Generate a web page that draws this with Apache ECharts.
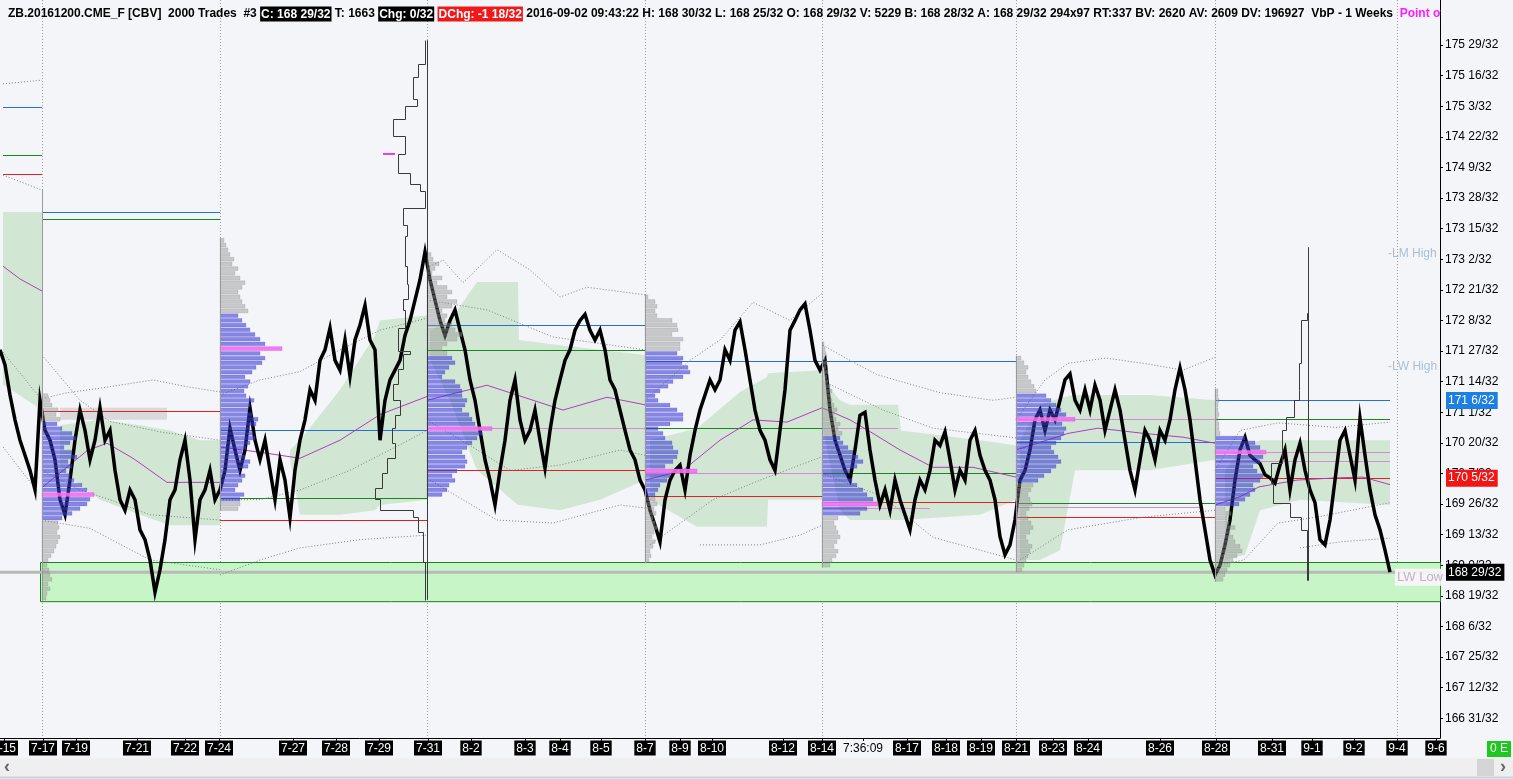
<!DOCTYPE html>
<html><head><meta charset="utf-8"><title>ZB.20161200.CME_F</title>
<script src="https://cdn.jsdelivr.net/npm/echarts@6.0.0/dist/echarts.min.js"></script>
<style>html,body{margin:0;padding:0;background:#f4f5f9;overflow:hidden}#c{width:1513px;height:779px}</style>
</head><body><div id="c"></div>
<script>
const FONT = '"Liberation Sans", Arial, sans-serif';
const BG = '#f4f5f9';

// ---------- axis tick labels ----------
const priceTickLabels = ['175 29/32','175 16/32','175 3/32','174 22/32','174 9/32','173 28/32','173 15/32','173 2/32','172 21/32','172 8/32','171 27/32','171 14/32','171 1/32','170 20/32','170 7/32','169 26/32','169 13/32','169 0/32','168 19/32','168 6/32','167 25/32','167 12/32','166 31/32'];
const dateLabels = ['7-15','7-17','7-19','7-21','7-22','7-24','7-27','7-28','7-29','7-31','8-2','8-3','8-4','8-5','8-7','8-9','8-10','8-12','8-14','7:36:09','8-17','8-18','8-19','8-21','8-23','8-24','8-26','8-28','8-31','9-1','9-2','9-4','9-6'];
const dateBars = [4,43,76,137,185,219,293,336,379,428,471,525,560,601,645,680,712,783,822,863,907,946,981,1016,1053,1088,1160,1216,1272,1312,1354,1397,1436];
const weekBars = [42,220,427,645,822,1016,1215,1397];

// ---------- price series (one value every 5 bars) ----------
const BAR_STEP = 5;
const closes = [
171.86,171.66,171.26,170.93,170.66,170.46,170.26,170.00,171.19,170.79,
170.66,170.40,169.87,169.67,170.13,170.66,171.06,170.79,170.40,170.66,
171.09,170.66,170.79,170.26,169.87,169.73,170.00,169.87,169.47,169.34,
169.07,168.64,168.94,169.34,169.87,170.00,170.40,170.66,170.13,169.34,
169.87,170.00,170.26,169.87,170.00,170.26,170.82,170.53,170.26,170.53,
171.09,170.66,170.40,170.66,170.26,169.87,170.40,170.13,169.63,170.26,
170.66,170.93,171.33,171.19,171.72,171.86,172.15,171.72,171.59,171.99,
171.51,171.99,172.19,172.45,171.99,171.86,170.66,171.19,171.46,171.59,
171.72,172.05,172.25,172.52,172.79,173.16,172.79,172.52,172.25,172.05,
172.25,172.39,172.12,171.86,171.46,171.19,170.79,170.40,170.13,169.80,
170.26,170.66,171.19,171.46,170.93,170.66,170.79,171.06,170.66,170.29,
170.79,171.19,171.46,171.72,171.86,172.12,172.25,172.33,172.12,171.99,
172.12,171.86,171.46,171.33,171.06,170.79,170.53,170.40,170.13,170.00,
169.73,169.53,169.31,169.87,170.13,170.26,170.33,170.00,170.46,170.79,
171.06,171.26,171.46,171.33,171.46,171.86,171.72,172.12,172.23,171.86,
171.46,171.06,170.79,170.66,170.40,170.26,170.79,171.33,172.12,172.25,
172.39,172.47,172.12,171.72,171.59,171.72,171.06,170.66,170.46,170.26,
170.13,170.53,170.99,171.03,170.53,170.13,169.80,170.00,169.73,170.13,
169.87,169.67,169.47,169.87,170.13,170.00,170.26,170.66,170.59,170.77,
170.40,170.00,170.26,170.13,170.66,170.79,170.46,170.26,170.13,169.87,
169.38,169.14,169.27,169.60,170.13,170.26,170.53,170.93,171.06,170.79,
171.06,170.93,171.19,171.46,171.54,171.19,171.06,171.33,171.06,171.39,
171.19,170.79,171.06,171.33,171.06,170.66,170.26,170.00,170.40,170.79,
170.66,170.40,170.79,170.66,170.93,171.33,171.62,171.33,170.93,170.40,
169.87,169.47,169.07,168.87,169.00,169.27,169.60,170.13,170.53,170.70,
170.46,170.40,170.35,170.20,170.16,170.09,170.33,170.53,170.00,170.40,
170.62,170.26,170.00,169.83,169.34,169.27,169.60,170.13,170.66,170.79,
170.46,170.13,170.95,170.46,170.00,169.67,169.47,169.20,168.91
];

// ---------- weekly volume profiles (rows every 1/16, bottom to top) ----------
const ROW = 1/16;
const profBars = [42,220,427,645,822,1016,1215];
const profLows = [168.5625,169.75,169.9375,169.0625,169.0,168.9375,168.8125];
const profPoc  = [22,34,14,19,13,32,27];
const profVaLo = [17,2,0,14,11,19,16];
const profVaHi = [37,41,29,44,27,37,30];
const volA = [4,5,8,6,10,8,7,5,6,9,12,14,16,18,15,17,16, 20,30,38,45,48, 52, 45,40,32,28,24,30,26,35,30,22,28,34,30,20,15, 18,14,16,10,8,6];
const volB = [18,20, 20,24,15,18,22,25,20,28,30,25,22,26,30,35,33,30,36,38,32,28,30,34,26,24,28,30,25,32,36,42,45,40, 62, 45,40,35,30,26,22,18, 28,25,22,20,18,22,25,20,15,18,12,14,10,8,6,4];
const volC = [15,20,22,28,25,30,38,40,38,35,40,45,50,55, 65, 48,45,42,35,38,40,35,35,33,28,15,18,22,28,25, 20,15,20,30,35,28,25,18,20,15,25,30,20,25,20,10,15,5,8,12,6,4];
const volD = [4,6,5,8,10,7,9,12,10,8,11,9,12,10, 10,13,15,22,25, 52, 20,28,32,33,28,27,20,18,13,25,38,38,32,25,13,10,15,23,28,38,45,43,37,38,32, 35,35,38,27,33,32,27,12,10,12,10,3];
const volE = [8,10,14,16,12,15,18,16,14,12,16, 38,45, 56, 51,45,41,35,30,25,28,35,41,36,31,26,21,18, 20,16,18,14,12,15,12,10,8,10,8,6,5,6,4,5,3,4,3,2];
const volF = [6,8,10,12,14,16,12,10,14,17,15,12,10,13,16,14,12,15,17, 22,28,35,40,45,42,38,35,40,45,48,50,46, 59, 50,45,40,35,30, 20,18,15,12,10,12,8,5];
const volG = [8,10,12,15,18,22,27,25,20,18,15,20,14,12,16,10, 24,30,35,40,38,45,48,42,38,45,48, 51, 45,40,30, 5,4,4,3,4,3,3,4,3,3];
const profVols = [volA,volB,volC,volD,volE,volF,volG];

// ---------- developing profile outlines [price, volume] (top to bottom) ----------
const outline731 = [[175.97,2],[175.65,9],[175.48,14],[175.19,10],[175.10,22],[174.92,34],[174.70,22],[174.46,29],[174.21,17],[174.06,7],[173.97,2],[173.74,24],[173.52,20],[173.37,22],[172.97,20],[172.73,19],[172.53,24],[172.39,22],[172.15,29],[171.84,17],[171.80,24],[171.60,29],[171.41,34],[171.20,27],[171.00,32],[170.82,35],[170.62,32],[170.42,40],[170.22,45],[170.03,52],[169.88,47],[169.73,14],[169.64,9],[169.44,4],[169.04,2],[168.54,2]];
const outline901 = [[173.22,0],[172.35,1],[172.25,7],[171.69,9],[171.33,9],[171.19,14],[170.97,22],[170.79,26],[170.53,26],[170.36,37],[170.09,35],[169.83,18],[169.64,7],[169.47,1],[168.80,0]];
const outlineBars = [427,1308];
const outlinePocs = [[383,395,174.46]];

// ---------- value-area shading [bar, high, low] ----------
const greenPre = [[3,173.69,171.40],[42,173.69,171.06]];
const green717 = [[60,170.86,170.26],[100,170.93,169.87],[140,170.86,169.67],[170,170.79,169.53],[200,170.66,169.53],[220,170.66,169.53]];
const green724 = [[290,170.53,170.40],[300,170.66,169.67],[340,171.33,169.67],[375,172.05,169.73],[380,172.25,169.80],[427,172.32,169.87]];
const green731 = [[430,172.12,171.72],[450,172.25,171.19],[477,172.76,170.26],[518,172.76,169.80],[519,171.99,169.80],[560,171.92,169.73],[600,171.86,169.87],[645,171.79,170.13]];
const green807 = [[650,170.66,169.87],[697,170.82,169.51],[740,171.30,169.51],[767,171.50,169.51],[768,171.55,169.87],[822,171.59,169.87]];
const green814 = [[823,171.46,170.79],[840,171.19,169.73],[850,171.13,169.60],[898,171.13,169.60],[901,170.79,169.60],[980,170.66,169.67],[1016,170.59,169.87]];
const green821 = [[1020,170.66,169.07],[1040,171.13,169.07],[1060,171.22,169.20],[1075,171.26,170.26],[1150,171.26,170.26],[1215,171.19,170.40]];
const green828 = [[1225,170.26,169.07],[1245,170.59,169.14],[1260,170.66,169.73],[1300,170.66,169.87],[1390,170.66,169.80]];
const grayBand717 = [[60,171.09,170.93],[167,171.09,170.93]];

// ---------- weekly levels [fromBar, toBar, price] ----------
const levelsBlue  = [[3,42,175.08],[42,220,173.69],[220,427,170.79],[427,645,172.19],[645,822,171.71],[822,1016,171.71],[1016,1215,170.64],[1215,1390,171.1875]];
const levelsGreen = [[3,42,174.45],[42,220,173.60],[220,427,169.89],[427,645,171.86],[645,822,170.82],[822,1016,170.22],[1016,1215,169.82],[1215,1390,170.94]];
const levelsRed   = [[3,42,174.19],[42,220,171.05],[220,427,169.60],[427,645,170.26],[645,822,169.92],[822,1016,169.84],[1016,1215,169.64],[1215,1390,170.15625]];
const levelsPink  = [[427,645,170.82],[645,822,170.22],[822,898,170.82],[822,930,169.76],[1016,1215,170.94],[1016,1200,169.77],[1215,1390,170.50],[1215,1390,170.38]];

// ---------- VWAP curves [bar, price] ----------
const vwapPre = [[3,172.97],[20,172.80],[42,172.64]];
const vwap717 = [[42,170.03],[87,170.52],[107,170.62],[133,170.42],[167,170.10],[220,170.10]];
const vwap724 = [[220,170.57],[260,170.50],[300,170.42],[340,170.66],[380,171.00],[427,171.24]];
const vwap731 = [[427,171.19],[487,171.39],[510,171.29],[563,171.06],[607,171.23],[645,171.13]];
const vwap807 = [[645,170.13],[683,170.26],[720,170.66],[753,170.93],[787,170.90],[822,171.09]];
const vwap814 = [[822,171.09],[850,170.93],[873,170.75],[900,170.53],[933,170.30],[973,170.30],[1016,170.17]];
const vwap821 = [[1016,170.53],[1068,170.75],[1098,170.82],[1144,170.75],[1183,170.70],[1215,170.62]];
const vwap828 = [[1215,169.80],[1240,169.91],[1259,170.04],[1297,170.13],[1336,170.16],[1363,170.17],[1390,170.07]];

// ---------- deviation bands (dotted) [bar, price] ----------
const dotPreU1 = [[3,175.39],[42,175.44]];
const dotPreU2 = [[3,174.18],[42,173.98]];
const dotPreL1 = [[3,171.83],[42,171.19]];
const dotPreL2 = [[3,170.57],[38,169.97]];
const dot717U1 = [[42,171.21],[67,171.29],[100,171.35],[153,171.46],[187,171.37],[220,171.30]];
const dot717U2 = [[42,171.79],[80,171.19],[110,170.91],[160,170.77],[220,170.66]];
const dot717L1 = [[42,170.26],[80,170.00],[110,169.87],[150,169.67],[220,169.60]];
const dot717L2 = [[45,169.59],[90,169.49],[150,169.07],[220,168.94]];
const dot724U1 = [[220,171.26],[260,171.46],[300,171.57],[340,171.86],[380,172.12],[427,172.28]];
const dot724L1 = [[220,169.87],[260,169.87],[300,170.00],[350,170.26],[400,170.60],[427,170.79]];
const dot724L2 = [[220,168.87],[260,169.07],[300,169.23],[360,169.34],[427,169.40]];
const dot731U1 = [[427,172.95],[443,173.05],[463,172.75],[497,173.19],[530,172.92],[560,172.56],[587,172.69],[645,172.59]];
const dot731U2 = [[427,172.52],[487,172.39],[553,172.03],[645,171.86]];
const dot731L1 = [[427,170.93],[470,170.59],[510,170.26],[560,170.33],[620,170.53],[645,170.46]];
const dot731L2 = [[430,170.13],[497,169.60],[553,169.56],[620,169.80],[645,169.76]];
const dot807U1 = [[645,171.19],[690,171.72],[720,171.99],[753,172.49],[790,172.25],[822,172.61]];
const dot807L1 = [[650,169.27],[713,169.87],[760,170.13],[822,170.44]];
const dot807L2 = [[700,169.27],[760,169.27],[800,169.40],[822,169.53]];
const dot814U1 = [[823,171.92],[850,171.72],[877,171.53],[940,171.29],[993,171.19],[1016,171.23]];
const dot814U2 = [[827,171.42],[883,171.06],[933,170.82],[1016,170.69]];
const dot814L1 = [[822,170.22],[883,169.91],[933,169.37],[980,169.20],[1016,169.07]];
const dot821U1 = [[1016,170.93],[1045,171.46],[1068,171.68],[1106,171.75],[1144,171.68],[1183,171.59],[1215,171.76]];
const dot821L1 = [[1020,169.07],[1068,169.47],[1144,169.64],[1215,169.73]];
const dot828U1 = [[1215,170.26],[1240,170.79],[1278,170.89],[1336,170.83],[1390,170.90]];
const dot828L1 = [[1218,169.00],[1244,169.07],[1278,169.56],[1317,169.64],[1390,169.83]];
const dot828L2 = [[1300,169.23],[1340,169.31],[1390,169.36]];

// ---------- zone, last price, tags, notes ----------
const zoneBox = [[40,169.04,1440,168.52]];
const lastPrice = 168.90625;
const tagLabels = ['171 6/32','170 5/32','168 29/32'];
const tagValues = [171.1875,170.15625,168.90625];
const tagColors = ['#1b7fe3','#f31414','#000000'];
const noteLabels = ['-LM High','-LW High'];
const noteValues = [173.14,171.64];
const lwLowLabel = 'LW Low';
const lwLowValue = 168.84;

// ================= build =================
const Y_MAX = 176.5036, Y_MIN = 166.7066;
function parseP(s){ const p = s.split(' '); const f = p[1].split('/'); return +p[0] + (+f[0])/(+f[1]); }
const priceTickValues = priceTickLabels.map(parseP);
function nearestLabel(vals, labels, v){ let bi=0, bd=1e9; vals.forEach((t,i)=>{const d=Math.abs(t-v); if(d<bd){bd=d;bi=i;}}); return labels[bi]; }

const profRows = [];
const profBase = [];
profVols.forEach((vols,k)=>{
  vols.forEach((w,i)=>{
    const kind = i===profPoc[k] ? 2 : (i>=profVaLo[k] && i<=profVaHi[k] ? 1 : 0);
    profRows.push([profBars[k], profLows[k]+i*ROW, w, kind]);
  });
  profBase.push([profBars[k], profLows[k]-ROW/2, profLows[k]+(vols.length-0.5)*ROW]);
});
profBase[0][2] = 173.99;

const greenBands = [greenPre,green717,green724,green731,green807,green814,green821,green828];
const levelSets = [levelsBlue,levelsGreen,levelsRed,levelsPink];
const levelColors = ['#2371d6','#15861a','#e32020','#d88ad8'];
const levelRows = [];
levelSets.forEach((set,k)=>set.forEach(s=>levelRows.push([s[0],s[2],s[1],k])));
const vwaps = [vwapPre,vwap717,vwap724,vwap731,vwap807,vwap814,vwap821,vwap828];
const dots = [dotPreU1,dotPreU2,dotPreL1,dotPreL2,dot717U1,dot717U2,dot717L1,dot717L2,dot724U1,dot724L1,dot724L2,dot731U1,dot731U2,dot731L1,dot731L2,dot807U1,dot807L1,dot807L2,dot814U1,dot814U2,dot814L1,dot821U1,dot821L1,dot828U1,dot828L1,dot828L2];
const outlines = [outline731,outline901];

const series = [];
series.push({type:'custom', z:1, silent:true, data: weekBars.map(b=>[b,170]), encode:{x:0,y:1},
  renderItem(params, api){ const x = Math.round(api.coord([api.value(0),170])[0])+0.5; const cs = params.coordSys;
    return {type:'line', shape:{x1:x,y1:0,x2:x,y2:cs.y+cs.height}, style:{stroke:'#a0a0a0', lineWidth:1, lineDash:[1,2]}}; }});
series.push({type:'custom', z:1, silent:true, data: greenBands.map((b,i)=>[b[0][0], b[0][1], i]), encode:{x:0,y:1},
  renderItem(params, api){ const band = greenBands[api.value(2)];
    const pts = band.map(r=>api.coord([r[0],r[1]])).concat(band.slice().reverse().map(r=>api.coord([r[0],r[2]])));
    return {type:'polygon', shape:{points:pts}, style:{fill:'rgba(160,212,160,0.42)'}}; }});
series.push({type:'custom', z:1, silent:true, data: [[grayBand717[0][0], grayBand717[0][1]]], encode:{x:0,y:1},
  renderItem(params, api){ const a = api.coord([grayBand717[0][0], grayBand717[0][1]]), b = api.coord([grayBand717[1][0], grayBand717[1][2]]);
    return {type:'rect', shape:{x:a[0],y:a[1],width:b[0]-a[0],height:b[1]-a[1]}, style:{fill:'rgba(170,170,170,0.35)'}}; }});
series.push({type:'custom', z:2, silent:true, data: zoneBox, encode:{x:0,y:1},
  renderItem(params, api){ const a = api.coord([api.value(0), api.value(1)]), b = api.coord([api.value(2), api.value(3)]);
    return {type:'rect', shape:{x:Math.round(a[0])+0.5,y:Math.round(a[1])+0.5,width:b[0]-a[0],height:b[1]-a[1]}, style:{fill:'#c8f5c8', stroke:'#1f7f1f', lineWidth:1}}; }});
series.push({type:'custom', z:3, silent:true, data: [[0,lastPrice]], encode:{x:0,y:1},
  renderItem(params, api){ const a = api.coord([0,lastPrice]); const cs = params.coordSys;
    return {type:'line', shape:{x1:cs.x,y1:a[1],x2:cs.x+cs.width,y2:a[1]}, style:{stroke:'#b9b9b9', lineWidth:3}}; }});
series.push({type:'custom', z:4, silent:true, data: levelRows, encode:{x:0,y:1},
  renderItem(params, api){ const k = api.value(3); const a = api.coord([api.value(0), api.value(1)]), b = api.coord([api.value(2), api.value(1)]);
    const y = Math.round(a[1])+0.5;
    return {type:'line', shape:{x1:a[0],y1:y,x2:b[0],y2:y}, style:{stroke:levelColors[k], lineWidth:1}}; }});
vwaps.forEach(d=>series.push({type:'line', z:4, silent:true, data:d, symbol:'none', lineStyle:{color:'#b23dbd', width:1}}));
dots.forEach(d=>series.push({type:'line', z:4, silent:true, data:d, symbol:'none', lineStyle:{color:'#808080', width:1, type:[1,2]}}));
series.push({type:'line', z:5, silent:true, data: closes.map((v,i)=>[i*BAR_STEP, v]), symbol:'none', lineStyle:{color:'#000', width:3.5, join:'miter'}});
const pFill = ['rgba(150,150,150,0.48)','rgba(60,60,215,0.6)','rgba(242,110,242,0.9)'];
const pStroke = ['rgba(125,125,125,0.4)','rgba(70,70,200,0.35)','rgba(235,90,235,0.9)'];
series.push({type:'custom', z:6, silent:true, data: profRows, encode:{x:0,y:1},
  renderItem(params, api){ const base=api.value(0), p=api.value(1), w=api.value(2), k=api.value(3);
    const a = api.coord([base, p+ROW/2]), b = api.coord([base+w, p-ROW/2]);
    return {type:'rect', shape:{x:a[0], y:a[1]+0.4, width:Math.max(1,b[0]-a[0]), height:Math.max(1,b[1]-a[1]-0.9)}, style:{fill:pFill[k], stroke:pStroke[k], lineWidth:0.5}}; }});
series.push({type:'custom', z:6, silent:true, data: profBase, encode:{x:0,y:1},
  renderItem(params, api){ const a = api.coord([api.value(0), api.value(1)]), b = api.coord([api.value(0), api.value(2)]);
    const x = Math.round(a[0])+0.5;
    return {type:'line', shape:{x1:x,y1:a[1],x2:x,y2:b[1]}, style:{stroke:'#9a9a9a', lineWidth:1}}; }});
series.push({type:'custom', z:7, silent:true, data: outlines.map((o,i)=>[outlineBars[i], o[0][0], i]), encode:{x:0,y:1},
  renderItem(params, api){ const i = api.value(2); const o = outlines[i], base = outlineBars[i];
    const pts = [];
    o.forEach((r,j)=>{ pts.push(api.coord([base-r[1], r[0]])); if(j<o.length-1) pts.push(api.coord([base-r[1], o[j+1][0]])); });
    const t = api.coord([base, o[0][0]]), bt = api.coord([base, o[o.length-1][0]]);
    const x = Math.round(t[0])+0.5;
    return {type:'group', children:[
      {type:'polyline', shape:{points:pts.map(p=>[Math.round(p[0])+0.5, Math.round(p[1])+0.5])}, style:{stroke:'#3a3a3a', lineWidth:1, fill:null}},
      {type:'line', shape:{x1:x,y1:t[1],x2:x,y2:bt[1]}, style:{stroke:'#3a3a3a', lineWidth:1}}
    ]}; }});
series.push({type:'custom', z:7, silent:true, data: outlinePocs, encode:{x:0,y:2},
  renderItem(params, api){ const a = api.coord([api.value(0), api.value(2)]), b = api.coord([api.value(1), api.value(2)]);
    return {type:'line', shape:{x1:a[0],y1:a[1],x2:b[0],y2:b[1]}, style:{stroke:'#e040e0', lineWidth:2}}; }});

const option = {
  animation:false,
  backgroundColor: BG,
  title: { left:3, top:1, text:
    '{n|ZB.20161200.CME_F [CBV]  2000 Trades  #3 }{b|C: 168 29/32}{n| T: 1663 }{b|Chg: 0/32}{n| }{r|DChg: -1 18/32}{n| 2016-09-02 09:43:22 H: 168 30/32 L: 168 25/32 O: 168 29/32 V: 5229 B: 168 28/32 A: 168 29/32 294x97 RT:337 BV: 2620 AV: 2609 DV: 196927  VbP - 1 Weeks  }{m|Point of Control}',
    textStyle:{ rich:{
      n:{fontSize:12, fontFamily:FONT, color:'#000', lineHeight:16},
      b:{fontSize:12, fontFamily:FONT, color:'#fff', backgroundColor:'#000', padding:[2,1,1,1], lineHeight:16},
      r:{fontSize:12, fontFamily:FONT, color:'#fff', backgroundColor:'#f01818', padding:[2,1,1,1], lineHeight:16},
      m:{fontSize:12, fontFamily:FONT, color:'#ff1aff', lineHeight:16}
    }}},
  grid:{left:0, right:73, top:0, bottom:41, containLabel:false, outerBoundsMode:'none'},
  xAxis:{ type:'value', min:0, max:1440,
    axisLine:{show:true, onZero:false, lineStyle:{color:'#000', width:1}},
    axisTick:{show:true, customValues: dateBars, length:3, lineStyle:{color:'#000'}},
    axisLabel:{ customValues: dateBars, margin:3, hideOverlap:false,
      formatter: v => { const s = nearestLabel(dateBars, dateLabels, v); return s.indexOf(':')>=0 ? '{t|'+s+'}' : '{b|'+s+'}'; },
      rich:{ b:{backgroundColor:'#000', color:'#fff', fontSize:12, fontFamily:FONT, padding:[2,2,1,2], lineHeight:14},
             t:{color:'#000', fontSize:12, fontFamily:FONT, padding:[2,2,1,2], lineHeight:14} } },
    splitLine:{show:false} },
  yAxis:{ type:'value', position:'right', min:Y_MIN, max:Y_MAX,
    axisLine:{show:true, onZero:false, lineStyle:{color:'#000', width:1}},
    axisTick:{show:true, customValues: priceTickValues, length:3, lineStyle:{color:'#000'}},
    axisLabel:{ customValues: priceTickValues, margin:5, color:'#000', fontSize:12, fontFamily:FONT,
      formatter: v => nearestLabel(priceTickValues, priceTickLabels, v) },
    splitLine:{show:false} },
  series
};

const chart = echarts.init(document.getElementById('c'));
chart.setOption(option);

const yPix = v => chart.convertToPixel({yAxisIndex:0}, v);
const gfx = [];
gfx.push({type:'rect', z:100, shape:{x:1441, y:0, width:72, height:21}, style:{fill:BG}});
tagLabels.forEach((t,i)=>{
  gfx.push({type:'text', z:101, x:1446, y:yPix(tagValues[i]), style:{text:t, fill:'#fff', font:'12px '+FONT, backgroundColor:tagColors[i], padding:[3,3,2,2], verticalAlign:'middle', align:'left'}});
});
noteLabels.forEach((t,i)=>{
  gfx.push({type:'text', z:101, x:1388, y:yPix(noteValues[i]), style:{text:t, fill:'#a9bfd4', font:'12px '+FONT, verticalAlign:'middle', align:'left'}});
});
gfx.push({type:'text', z:101, x:1395, y:yPix(lwLowValue), style:{text:lwLowLabel, fill:'#c9aec9', font:'13px '+FONT, backgroundColor:'rgba(250,246,250,0.9)', padding:[2,1,2,2], verticalAlign:'middle', align:'left'}});
gfx.push({type:'rect', z:100, shape:{x:0, y:758, width:1513, height:19}, style:{fill:'#efefef'}});
gfx.push({type:'line', z:100, shape:{x1:0, y1:777.5, x2:1513, y2:777.5}, style:{stroke:'#c3d4e6', lineWidth:2}});
gfx.push({type:'text', z:101, x:4, y:767, style:{text:'‹', fill:'#666', font:'bold 18px '+FONT, verticalAlign:'middle'}});
gfx.push({type:'rect', z:101, shape:{x:1477, y:759, width:17, height:17}, style:{fill:'#d5d5d5'}});
gfx.push({type:'text', z:101, x:1500, y:767, style:{text:'›', fill:'#666', font:'bold 18px '+FONT, verticalAlign:'middle'}});
gfx.push({type:'rect', z:101, shape:{x:1487, y:741, width:24, height:16}, style:{fill:'#1fc81f'}});
gfx.push({type:'text', z:102, x:1499, y:749, style:{text:'0 E', fill:'#fff', font:'12px '+FONT, align:'center', verticalAlign:'middle'}});
chart.setOption({graphic: gfx});
</script></body></html>
